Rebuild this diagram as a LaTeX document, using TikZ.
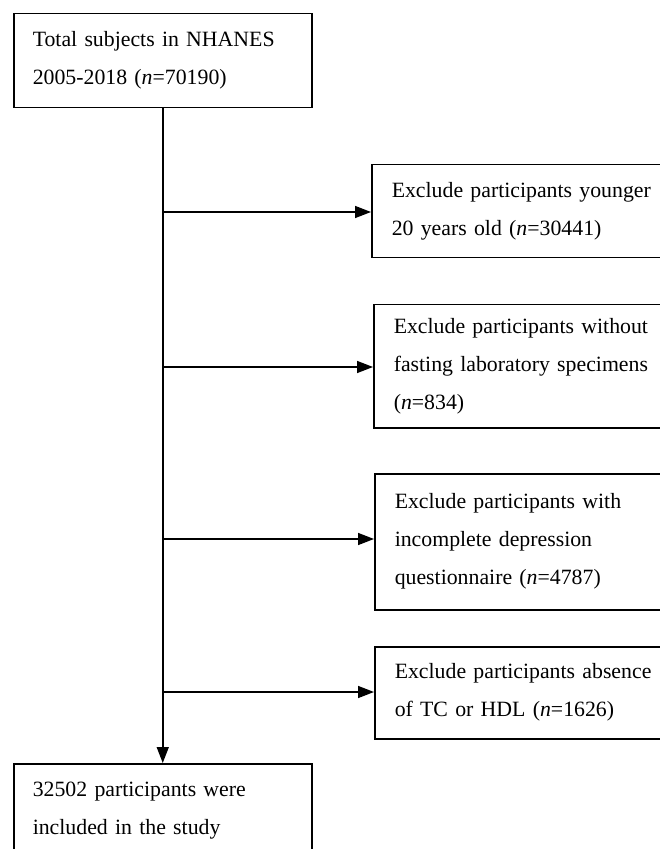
\documentclass[tikz,border=0pt]{standalone}
\usepackage{fontspec}
\setmainfont{Liberation Serif}
\usepackage{tikz}
\usetikzlibrary{arrows.meta}
\usetikzlibrary{shapes}
\tikzstyle{block} = [rectangle, draw, fill=white, anchor=north west, align=left,
inner xsep=9.5pt, text width=150pt, minimum width=170pt, line width=0.75pt]
\tikzstyle{mainblock} = [block, text width=130pt, minimum width=149pt, minimum height=47pt]
\tikzstyle{line} = [draw, -{Triangle[length=8pt,width=6pt]}, line width=0.75pt]

\begin{document}
\begin{tikzpicture}[x=0.5pt, y=-0.5pt, font=\fontsize{10.9}{19}\selectfont]
\useasboundingbox (0,0) rectangle (659,849);
% Place nodes
	\node [mainblock] at (13,13)   (total) {Total subjects in NHANES\\2005-2018 (\textit{n}=70190)};
	\node [block, minimum height=46.5pt] at (371,164) (young) {Exclude participants younger\\20 years old (\textit{n}=30441)};
	\node [block, minimum height=61.5pt] at (373,304) (fast)  {Exclude participants without\\fasting laboratory specimens\\(\textit{n}=834)};
	\node [block, minimum height=68pt]   at (374,473) (depr)  {Exclude participants with\\incomplete depression\\questionnaire (\textit{n}=4787)};
	\node [block, minimum height=46pt]   at (374,646) (lipid) {Exclude participants absence\\of TC or HDL (\textit{n}=1626)};
	\node [mainblock] at (13,763)  (incl)  {32502 participants were\\included in the study};

% Branch points on the trunk
	\coordinate (b1) at (162,212);
	\coordinate (b2) at (162,367);
	\coordinate (b3) at (162,539);
	\coordinate (b4) at (162,692);

% Draw edges
	\path [line] (total) -- (incl);
	\path [line] (b1) -- (b1 -| young.west);
	\path [line] (b2) -- (b2 -| fast.west);
	\path [line] (b3) -- (b3 -| depr.west);
	\path [line] (b4) -- (b4 -| lipid.west);

\end{tikzpicture}
\end{document}
